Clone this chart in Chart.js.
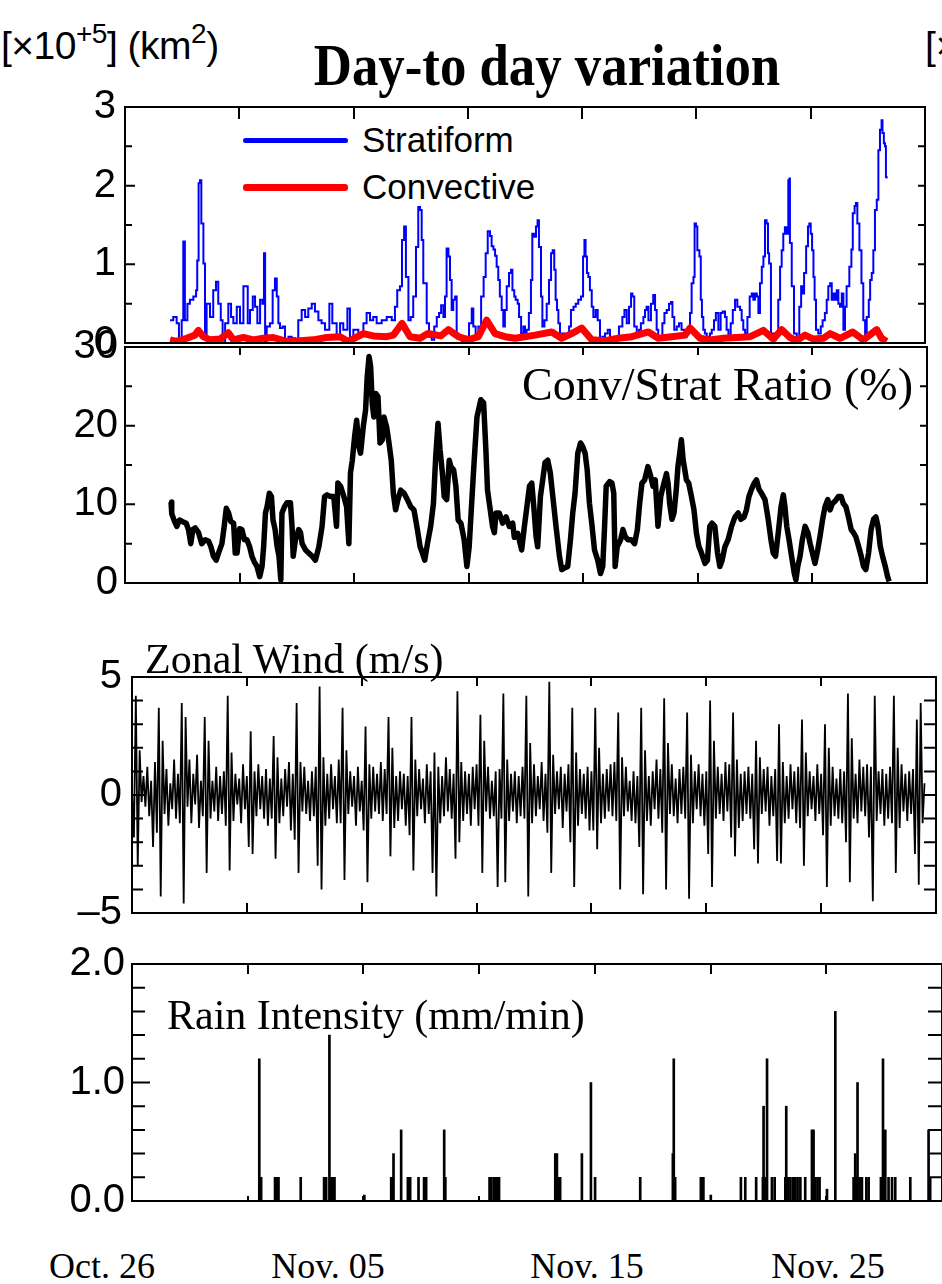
<!DOCTYPE html>
<html>
<head>
<meta charset="utf-8">
<script src="https://cdn.jsdelivr.net/npm/chart.js@4.4.1/dist/chart.umd.min.js"></script>
<style>
html,body{margin:0;padding:0;background:#fff;}
body{width:942px;height:1284px;position:relative;overflow:hidden;}
canvas{position:absolute;left:0;}
.t{position:absolute;white-space:nowrap;color:#000;line-height:1;}
.serif{font-family:"Liberation Serif","Times New Roman",serif;}
.sans{font-family:"Liberation Sans",Arial,sans-serif;}
.sup{position:relative;font-size:28px;top:-16px;}
.key{position:absolute;left:243px;width:105px;border-radius:3px;}
</style>
</head>
<body>

<div class="t sans" style="left:1px;top:26px;font-size:39px;letter-spacing:-0.5px;">[×10<span class="sup">+5</span>] (km<span class="sup">2</span>)</div>
<div class="t sans" style="left:925px;top:26px;font-size:39px;">[×10<span class="sup">+5</span>]</div>
<div class="t serif" style="left:547px;top:35px;font-size:60px;font-weight:bold;transform:translateX(-50%) scaleX(0.88);">Day-to day variation</div>

<div class="key" style="top:138px;height:5px;background:#0000ff;"></div>
<div class="key" style="top:184px;height:7px;background:#ff0000;"></div>
<div class="t sans" style="left:362px;top:122px;font-size:35px;">Stratiform</div>
<div class="t sans" style="left:362px;top:169px;font-size:35px;">Convective</div>

<canvas id="c1"></canvas>
<canvas id="c2"></canvas>
<canvas id="c3"></canvas>
<canvas id="c4"></canvas>

<div class="t serif" style="right:29px;top:362px;font-size:46px;">Conv/Strat Ratio (%)</div>
<div class="t serif" style="left:145px;top:638px;font-size:42px;">Zonal Wind (m/s)</div>
<div class="t serif" style="left:167px;top:994px;font-size:42px;">Rain Intensity (mm/min)</div>

<div id="dates"></div>

<script>
// x values are days after Oct. 26 00:00

const dateLabels = ["Oct. 26", "Nov. 05", "Nov. 15", "Nov. 25"];
const dateLabelX = [102, 328, 587, 828];

// stratiform / convective area [x10^5 km2]
const stratiform = [
[1.97,0.29],[2.11,0.33],[2.26,0.25],[2.36,0.06],[2.48,0.29],[2.55,1.29],[2.62,0.29],[2.73,0.50],[2.84,0.55],[2.99,0.59],
[3.11,0.67],[3.16,1.05],[3.22,2.03],[3.28,2.07],[3.34,1.52],[3.43,1.01],[3.50,0.08],[3.57,0.50],[3.72,0.33],[3.86,0.67],
[3.98,0.78],[4.08,0.50],[4.19,0.29],[4.27,0.0],[4.38,0.25],[4.52,0.50],[4.64,0.33],[4.74,0.25],[4.89,0.46],[5.03,0.25],
[5.18,0.72],[5.28,0.72],[5.37,0.25],[5.47,0.42],[5.59,0.59],[5.69,0.46],[5.79,0.25],[5.91,0.55],[6.01,0.50],[6.08,1.14],
[6.13,0.0],[6.20,0.21],[6.34,0.25],[6.46,0.67],[6.56,0.82],[6.64,0.59],[6.71,0.25],[6.78,0.19],[6.90,0.21],[7.00,0.0],
[7.15,0.08],[7.29,0.06],[7.44,0.04],[7.58,0.29],[7.73,0.42],[7.88,0.33],[8.02,0.44],[8.17,0.50],[8.31,0.40],[8.46,0.29],
[8.60,0.25],[8.75,0.17],[8.94,0.50],[9.07,0.25],[9.26,0.08],[9.41,0.25],[9.55,0.17],[9.73,0.44],[9.84,0.04],[9.99,0.17],
[10.21,0.12],[10.43,0.25],[10.57,0.38],[10.72,0.29],[10.86,0.33],[11.01,0.25],[11.23,0.29],[11.45,0.33],[11.67,0.29],[11.81,0.46],
[11.91,0.67],[12.03,0.72],[12.12,1.31],[12.21,1.48],[12.29,0.84],[12.40,0.29],[12.50,0.33],[12.61,0.59],[12.73,1.22],[12.83,1.73],
[12.91,1.69],[12.98,1.31],[13.05,0.76],[13.20,0.25],[13.30,0.08],[13.42,0.04],[13.53,0.21],[13.64,0.33],[13.74,0.38],[13.83,0.48],
[13.93,0.33],[14.00,0.59],[14.07,1.20],[14.15,1.10],[14.22,0.80],[14.29,0.42],[14.36,0.55],[14.44,0.59],[14.51,0.12],[14.58,0.08],
[14.73,0.02],[14.85,0.08],[14.95,0.02],[15.05,0.25],[15.17,0.44],[15.24,0.21],[15.34,0.08],[15.46,0.21],[15.58,0.59],[15.69,0.84],
[15.78,1.14],[15.87,1.42],[15.97,1.36],[16.04,1.23],[16.12,1.19],[16.19,1.11],[16.26,0.97],[16.33,0.80],[16.40,0.59],[16.48,0.42],
[16.55,0.21],[16.62,0.42],[16.70,0.72],[16.80,0.89],[16.89,0.93],[16.95,0.67],[17.03,0.59],[17.09,0.55],[17.18,0.50],[17.24,0.33],
[17.33,0.12],[17.43,0.21],[17.50,0.12],[17.57,0.17],[17.67,0.38],[17.76,0.80],[17.82,1.39],[17.91,1.35],[17.98,1.48],[18.05,1.56],
[18.11,1.22],[18.20,0.59],[18.26,0.21],[18.35,0.29],[18.45,0.50],[18.55,0.80],[18.64,1.14],[18.71,1.18],[18.78,0.93],[18.84,0.55],
[18.90,0.42],[18.96,0.25],[19.03,0.08],[19.13,0.12],[19.22,0.08],[19.32,0.08],[19.43,0.21],[19.51,0.42],[19.62,0.46],[19.72,0.50],
[19.83,0.55],[19.95,0.59],[20.04,1.10],[20.10,1.31],[20.15,1.10],[20.21,0.89],[20.27,0.84],[20.34,0.67],[20.42,0.46],[20.49,0.33],
[20.59,0.42],[20.68,0.29],[20.78,0.04],[20.88,0.08],[21.00,0.12],[21.12,0.17],[21.22,0.04],[21.32,0.02],[21.41,0.0],[21.51,0.04],
[21.61,0.21],[21.70,0.21],[21.76,0.33],[21.85,0.42],[21.95,0.25],[22.05,0.46],[22.14,0.63],[22.20,0.59],[22.28,0.21],[22.39,0.08],
[22.49,0.17],[22.57,0.25],[22.68,0.33],[22.75,0.42],[22.82,0.46],[22.90,0.29],[23.01,0.50],[23.11,0.61],[23.19,0.42],[23.26,0.17],
[23.33,0.04],[23.42,0.08],[23.51,0.25],[23.60,0.38],[23.70,0.42],[23.80,0.50],[23.89,0.52],[23.95,0.33],[24.03,0.17],[24.14,0.21],
[24.24,0.25],[24.35,0.17],[24.47,0.08],[24.57,0.12],[24.67,0.21],[24.72,0.38],[24.79,0.76],[24.87,0.84],[24.92,1.52],[24.98,1.48],
[25.04,1.18],[25.13,1.10],[25.19,0.55],[25.24,0.33],[25.30,0.17],[25.37,0.12],[25.45,0.08],[25.52,0.04],[25.59,0.12],[25.67,0.17],
[25.77,0.29],[25.85,0.38],[25.96,0.17],[26.06,0.38],[26.15,0.40],[26.25,0.33],[26.32,0.17],[26.40,0.04],[26.50,0.25],[26.59,0.42],
[26.69,0.55],[26.79,0.46],[26.91,0.42],[26.98,0.29],[27.05,0.17],[27.13,0.12],[27.23,0.33],[27.33,0.59],[27.42,0.63],[27.49,0.55],
[27.56,0.63],[27.64,0.59],[27.71,0.38],[27.78,0.76],[27.86,0.97],[27.93,1.10],[28.00,1.56],[28.07,1.52],[28.13,1.14],[28.18,1.01],
[28.26,0.12],[28.36,0.04],[28.48,0.12],[28.58,0.55],[28.66,0.97],[28.73,1.18],[28.80,1.39],[28.87,1.47],[28.95,1.39],[29.02,2.07],
[29.07,2.09],[29.09,1.27],[29.17,0.72],[29.27,0.12],[29.39,0.04],[29.50,0.46],[29.58,0.72],[29.65,0.63],[29.71,0.89],[29.80,1.23],
[29.88,1.48],[29.94,1.52],[30.00,1.39],[30.06,1.18],[30.12,0.84],[30.17,0.55],[30.23,0.17],[30.33,0.12],[30.44,0.21],[30.52,0.29],
[30.62,0.38],[30.70,0.55],[30.77,0.72],[30.85,0.76],[30.92,0.55],[30.99,0.63],[31.06,0.55],[31.14,0.67],[31.21,0.50],[31.28,0.46],
[31.36,0.63],[31.43,0.17],[31.50,0.46],[31.57,0.72],[31.69,0.97],[31.78,1.19],[31.84,1.65],[31.92,1.74],[31.98,1.78],[32.04,1.52],
[32.13,1.18],[32.22,0.76],[32.30,0.29],[32.38,0.08],[32.45,0.33],[32.54,0.55],[32.60,0.80],[32.67,0.89],[32.74,1.18],[32.81,1.69],
[32.89,1.82],[32.96,2.45],[33.03,2.71],[33.10,2.83],[33.14,2.67],[33.20,2.54],[33.25,2.50],[33.29,2.11],[33.32,2.09]
];

const convective = [
[1.97,0.04],[2.26,0.02],[2.70,0.06],[3.06,0.10],[3.21,0.16],[3.43,0.08],[3.72,0.04],[4.16,0.05],[4.52,0.13],[4.74,0.04],
[5.18,0.07],[5.61,0.04],[6.05,0.06],[6.49,0.07],[7.07,0.02],[7.66,0.03],[8.24,0.04],[8.82,0.07],[9.41,0.08],[9.77,0.02],
[10.43,0.12],[10.86,0.09],[11.45,0.08],[11.74,0.10],[12.12,0.25],[12.47,0.08],[12.91,0.06],[13.25,0.12],[13.82,0.09],[14.15,0.17],
[14.58,0.08],[15.02,0.04],[15.46,0.08],[15.82,0.29],[16.19,0.12],[16.62,0.08],[17.06,0.06],[17.50,0.08],[17.94,0.10],[18.67,0.14],
[19.10,0.06],[19.54,0.12],[19.98,0.19],[20.42,0.04],[21.00,0.03],[21.58,0.06],[22.17,0.08],[22.90,0.14],[23.33,0.06],[23.92,0.08],
[24.50,0.10],[24.72,0.19],[25.16,0.06],[25.59,0.04],[26.18,0.06],[26.76,0.07],[27.35,0.08],[27.93,0.16],[28.36,0.05],[28.73,0.17],
[29.09,0.07],[29.39,0.03],[29.75,0.10],[30.12,0.05],[30.55,0.06],[30.85,0.12],[31.28,0.06],[31.84,0.14],[32.30,0.04],[32.89,0.17],
[33.10,0.06],[33.32,0.02]
];

// convective / stratiform ratio [%]
const ratio = [
[2.01,10.3],[2.04,8.8],[2.14,8.0],[2.26,7.2],[2.38,8.0],[2.52,7.8],[2.67,7.6],[2.77,6.8],[2.87,5.0],[2.96,6.8],
[3.06,7.0],[3.21,6.4],[3.35,5.0],[3.50,5.5],[3.65,5.3],[3.75,4.6],[3.86,3.4],[3.98,2.9],[4.08,3.8],[4.23,5.0],
[4.33,7.2],[4.42,9.5],[4.52,8.9],[4.62,7.8],[4.74,7.6],[4.81,3.8],[4.89,3.8],[5.00,6.9],[5.10,6.8],[5.21,5.5],
[5.32,5.5],[5.44,4.6],[5.54,3.4],[5.64,2.7],[5.76,2.1],[5.88,0.8],[5.98,2.1],[6.05,4.6],[6.13,8.9],[6.20,9.7],
[6.30,11.4],[6.39,11.0],[6.46,8.0],[6.55,6.8],[6.64,4.6],[6.72,3.4],[6.80,0.4],[6.85,8.9],[6.96,9.7],[7.07,10.2],
[7.22,10.2],[7.29,7.2],[7.34,3.4],[7.44,5.5],[7.58,6.8],[7.66,6.4],[7.73,5.0],[7.88,4.2],[8.02,3.8],[8.17,3.4],
[8.31,2.9],[8.46,4.6],[8.60,7.2],[8.71,11.0],[8.82,11.2],[8.97,11.0],[9.11,11.0],[9.23,7.2],[9.29,12.7],[9.41,12.3],
[9.55,11.0],[9.67,9.7],[9.77,5.0],[9.84,14.0],[9.92,15.6],[10.02,18.6],[10.11,20.7],[10.21,17.3],[10.28,16.5],[10.40,19.9],
[10.50,22.0],[10.57,26.2],[10.65,28.8],[10.72,27.5],[10.79,22.8],[10.86,21.1],[10.94,24.1],[11.04,23.7],[11.13,17.8],[11.23,18.2],
[11.30,21.1],[11.42,19.8],[11.52,17.8],[11.62,15.6],[11.71,11.4],[11.81,9.3],[11.91,10.6],[12.03,11.8],[12.18,11.4],[12.32,10.6],
[12.47,9.7],[12.61,9.3],[12.76,6.8],[12.88,4.6],[12.98,3.8],[13.08,2.9],[13.20,5.0],[13.34,7.2],[13.46,10.1],[13.56,16.1],
[13.66,20.3],[13.75,16.9],[13.85,14.0],[13.93,11.0],[14.04,10.6],[14.15,15.6],[14.22,14.8],[14.34,14.4],[14.44,12.3],[14.54,8.0],
[14.66,7.6],[14.80,5.5],[14.92,2.1],[15.02,4.6],[15.12,9.7],[15.24,15.6],[15.36,21.1],[15.53,23.3],[15.65,22.9],[15.75,16.9],
[15.82,11.8],[15.94,9.3],[16.04,7.2],[16.12,6.4],[16.19,8.9],[16.33,8.9],[16.48,7.6],[16.63,8.4],[16.77,7.2],[16.92,7.6],
[16.99,5.8],[17.14,6.3],[17.31,4.2],[17.43,7.2],[17.54,9.7],[17.65,12.3],[17.75,12.7],[17.84,9.7],[17.94,5.9],[18.01,4.6],
[18.13,11.0],[18.23,13.1],[18.33,15.3],[18.45,15.6],[18.56,14.0],[18.67,11.0],[18.81,7.2],[18.96,3.4],[19.06,1.7],[19.18,1.9],
[19.32,2.1],[19.44,5.5],[19.54,8.9],[19.64,11.4],[19.76,16.5],[19.88,17.8],[19.98,17.3],[20.08,16.5],[20.17,14.4],[20.27,10.1],
[20.37,7.6],[20.49,4.2],[20.63,2.9],[20.75,1.2],[20.85,2.1],[20.93,7.2],[21.00,12.3],[21.15,12.9],[21.25,12.7],[21.33,11.4],
[21.39,2.1],[21.48,4.6],[21.63,5.5],[21.73,6.8],[21.83,5.9],[21.95,5.5],[22.09,5.5],[22.24,5.0],[22.36,6.8],[22.46,10.1],
[22.56,12.7],[22.68,13.1],[22.82,14.8],[22.94,13.6],[23.04,12.3],[23.14,13.1],[23.26,7.2],[23.38,11.0],[23.52,12.7],[23.63,13.9],
[23.70,12.7],[23.77,10.1],[23.87,8.1],[23.96,8.9],[24.06,11.9],[24.13,14.8],[24.21,16.5],[24.28,18.2],[24.36,15.6],[24.43,14.4],
[24.50,13.1],[24.60,12.7],[24.72,11.0],[24.83,9.3],[24.94,6.3],[25.04,4.7],[25.16,3.8],[25.31,2.5],[25.42,2.9],[25.52,7.2],
[25.62,7.6],[25.74,7.2],[25.86,3.8],[25.96,2.1],[26.06,2.9],[26.18,4.6],[26.32,5.5],[26.47,7.2],[26.62,8.4],[26.76,8.9],
[26.88,8.1],[27.02,8.4],[27.12,9.3],[27.23,11.0],[27.34,11.9],[27.46,12.7],[27.56,13.1],[27.67,11.9],[27.78,11.4],[27.93,10.6],
[28.07,8.1],[28.19,5.5],[28.29,3.8],[28.39,3.4],[28.51,6.4],[28.63,9.7],[28.73,11.2],[28.80,9.7],[28.88,7.2],[28.98,5.5],
[29.09,3.4],[29.21,1.2],[29.28,0.4],[29.36,2.1],[29.46,3.4],[29.56,5.5],[29.68,7.2],[29.80,6.4],[29.90,5.0],[30.00,3.8],
[30.11,2.5],[30.23,4.2],[30.33,5.9],[30.44,8.0],[30.55,9.7],[30.67,10.6],[30.77,9.3],[30.87,10.1],[30.99,10.4],[31.13,11.0],
[31.25,11.0],[31.35,10.1],[31.46,9.7],[31.57,8.4],[31.69,6.8],[31.79,6.4],[31.89,5.9],[32.01,4.7],[32.13,3.4],[32.23,2.1],
[32.33,1.7],[32.45,3.8],[32.56,6.8],[32.67,8.1],[32.77,8.4],[32.86,7.2],[32.96,4.7],[33.06,3.4],[33.18,2.1],[33.28,0.8],
[33.35,0.2]
];

// zonal wind [m/s], one reading every 2 hours from Oct. 26 00:00
const windStartDay = 0;
const windStepDay = 1 / 12;
const wind = [
0.2,-1.8,4.2,-3.0,1.9,-0.3,0.8,-0.5,1.2,-0.9,0.6,-2.2,
1.4,-1.6,3.7,-4.3,2.3,-0.8,1.1,-1.3,0.5,-0.6,1.5,-1.0,
0.9,-1.2,3.9,-4.6,3.3,-0.5,1.5,-1.2,0.9,-0.4,1.7,-1.4,
0.6,-0.9,3.3,-3.3,2.3,-1.0,0.6,-0.7,1.2,-1.1,0.8,-0.8,
1.0,-1.3,4.2,-3.2,1.8,-1.1,0.9,-0.4,0.7,-1.2,1.3,-0.6,
0.8,-2.2,2.7,-2.5,1.0,-0.9,1.3,-0.6,0.8,-1.0,1.1,-1.3,
0.7,-1.0,2.5,-2.7,1.6,-1.2,0.7,-0.9,1.1,-0.5,1.4,-1.5,
0.9,-1.9,3.9,-3.3,1.4,-0.7,1.2,-0.8,0.6,-1.1,1.0,-0.9,
1.2,-3.0,4.6,-4.0,1.6,-1.3,0.9,-1.0,1.3,-0.6,0.8,-1.2,
1.5,-1.2,3.7,-3.6,1.9,-0.8,1.0,-0.5,0.8,-1.3,1.2,-0.7,
0.6,-1.5,2.9,-3.7,1.3,-1.0,1.2,-0.7,0.9,-0.8,1.4,-1.1,
1.1,-0.8,3.3,-2.6,2.0,-1.4,0.8,-1.1,1.0,-0.6,0.9,-1.3,
0.8,-1.7,3.3,-3.2,1.5,-0.9,1.1,-0.6,0.7,-1.2,1.3,-0.8,
1.0,-3.3,1.8,-4.3,1.2,-1.2,0.8,-0.9,1.6,-0.7,1.1,-1.0,
0.9,-2.7,4.4,-2.0,1.4,-1.1,1.0,-0.8,0.9,-1.3,1.2,-0.6,
1.3,-1.3,3.4,-3.3,2.3,-0.7,1.2,-1.0,0.6,-0.9,1.0,-3.9,
1.1,-1.0,4.3,-3.7,1.5,-1.1,0.9,-0.7,1.0,-1.2,0.8,-0.9,
1.2,-1.0,4.2,-4.3,2.2,-1.2,1.3,-0.9,0.8,-0.6,1.4,-1.1,
0.9,-1.6,4.8,-3.3,1.7,-0.8,1.0,-0.6,1.2,-1.4,0.9,-0.7,
1.3,-2.0,3.7,-3.9,1.8,-1.3,1.1,-0.8,0.9,-1.0,1.2,-1.5,
1.0,-1.5,3.7,-2.3,2.0,-1.2,0.9,-1.0,1.1,-0.7,1.3,-0.9,
1.4,-1.1,3.5,-4.0,1.6,-0.9,1.2,-0.7,0.6,-1.1,1.0,-1.2,
0.8,-2.2,3.7,-4.2,1.9,-1.1,0.8,-1.3,1.0,-0.6,1.5,-1.0,
1.1,-1.6,4.1,-4.0,2.2,-0.8,1.3,-0.9,0.7,-1.2,1.1,-0.8,
1.2,-1.0,3.5,-4.4,1.7,-1.2,1.0,-0.6,1.3,-0.9,0.9,-1.3,
1.0,-2.5,4.0,-3.9,2.3,-1.0,1.2,-0.8,0.9,-1.1,1.4,-0.7,
1.3,-1.8,3.5,-2.6,1.5,-1.4,0.9,-1.1,1.0,-0.8,1.2,-1.0,
0.9,-2.3,2.3,-2.9,1.6,-0.8,1.1,-0.7,1.2,-1.3,0.8,-0.9,
1.1,-2.8,3.0,-2.9,1.4,-1.2,0.8,-1.0,1.3,-0.6,1.0,-1.2,
1.2,-1.4,3.2,-3.0,1.8,-0.9,1.0,-0.6,0.8,-1.1,1.3,-0.8,
0.9,-1.7,3.0,-3.9,2.0,-1.3,1.2,-0.9,0.7,-1.0,1.1,-1.2,
1.0,-2.0,4.3,-3.7,2.4,-1.0,0.9,-1.2,1.5,-0.7,1.2,-0.9,
1.3,-1.8,1.2,-4.5,4.2,-1.1,1.0,-0.8,1.1,-1.3,0.9,-1.0,
1.2,-1.2,4.2,-3.3,2.0,-1.4,1.3,-0.7,0.9,-1.1,1.0,-0.8,
1.1,-2.5,3.2,-3.8,3.9,-1.2,0.5
];

// rain intensity [mm/min]
const rain = [
[5.50,1.2],[5.58,0.2],[6.18,0.2],[6.25,0.2],[6.33,0.2],[7.29,0.2],[8.30,0.2],[8.39,0.2],[8.53,1.4],[8.60,0.2],
[8.67,0.2],[8.75,0.2],[10.04,0.05],[11.20,0.2],[11.25,0.2],[11.30,0.4],[11.63,0.6],[11.92,0.2],[12.02,0.2],[12.38,0.2],
[12.62,0.2],[12.71,0.2],[13.49,0.6],[13.54,0.2],[15.45,0.2],[15.50,0.2],[15.62,0.2],[15.69,0.2],[15.76,0.2],[15.86,0.2],
[18.29,0.4],[18.36,0.4],[18.43,0.2],[18.50,0.2],[19.44,0.4],[19.83,1.0],[20.01,0.2],[21.96,0.2],[23.37,0.4],[23.41,1.2],
[23.47,0.2],[24.58,0.2],[24.63,0.2],[24.69,0.2],[25.01,0.05],[26.31,0.2],[26.50,0.2],[26.97,0.2],[27.26,0.2],[27.29,0.8],
[27.36,0.2],[27.44,1.2],[27.65,0.2],[27.77,0.2],[28.23,0.2],[28.27,0.8],[28.35,0.2],[28.45,0.2],[28.56,0.2],[28.66,0.2],
[28.76,0.2],[28.88,0.2],[29.09,0.2],[29.38,0.6],[29.45,0.6],[29.52,0.2],[29.62,0.2],[29.71,0.2],[30.03,0.1],[30.39,1.6],
[31.18,0.2],[31.25,0.4],[31.30,0.2],[31.35,1.0],[31.44,0.2],[31.54,0.2],[31.73,0.2],[31.83,0.2],[32.36,0.2],[32.42,0.2],
[32.45,1.2],[32.55,0.6],[32.69,0.2],[32.84,0.2],[32.98,0.2],[33.63,0.2],[34.42,0.6],[34.49,0.2]
];

const dayTicks = [5, 10, 15, 20, 25, 30];
const areaTicks = [0, 0.5, 1, 1.5, 2, 2.5, 3];
const ratioTicks = [0, 5, 10, 15, 20, 25, 30];
const windTicks = [-5, -4, -3, -2, -1, 0, 1, 2, 3, 4, 5];
const rainTicks = [0, 0.2, 0.4, 0.6, 0.8, 1.0, 1.2, 1.4, 1.6, 1.8, 2.0];


const tickFont = { family: "'Liberation Sans', Arial, sans-serif", size: 40 };

function toXY(pairs){
return pairs.map(p => ({ x: p[0], y: p[1] }));
}

function framePlugin(f){
return {
id: "frame",
afterDatasetsDraw(chart){
const ctx = chart.ctx;
const a = chart.chartArea;
const xs = chart.scales.x;
const ys = chart.scales.y;
ctx.save();
ctx.strokeStyle = "#000";
ctx.lineWidth = 2;
ctx.strokeRect(a.left, a.top, a.right - a.left, a.bottom - a.top);
ctx.beginPath();
dayTicks.forEach(v => {
const px = Math.round(xs.getPixelForValue(v));
ctx.moveTo(px, a.top); ctx.lineTo(px, a.top + f.topLen);
if(f.bottomLen){ ctx.moveTo(px, a.bottom); ctx.lineTo(px, a.bottom - f.bottomLen); }
});
f.yTicks.forEach(v => {
const py = ys.getPixelForValue(v);
const major = f.yMajor.some(m => Math.abs(m - v) < 1e-6);
ctx.moveTo(a.left, py); ctx.lineTo(a.left + (major ? f.leftMajor : f.leftMinor), py);
ctx.moveTo(a.right, py); ctx.lineTo(a.right - f.right, py);
});
ctx.stroke();
ctx.restore();
}
};
}

function makePanel(id, box, type, datasets, y, f){
const canvas = document.getElementById(id);
const h = box.bottom - box.top + 80;
canvas.width = 942; canvas.height = h;
canvas.style.width = "942px"; canvas.style.height = h + "px";
canvas.style.top = (box.top - 40) + "px";

return new Chart(canvas.getContext("2d"), {
type: type,
data: { datasets: datasets },
options: {
responsive: false,
animation: false,
layout: { padding: { top: 40, bottom: 40, left: 0, right: 942 - box.right } },
plugins: { legend: { display: false }, tooltip: { enabled: false } },
elements: { point: { radius: 0 }, line: { tension: 0 } },
scales: {
x: { type: "linear", min: 0, max: 35, display: false, offset: false },
y: {
type: "linear", min: y.min, max: y.max,
grid: { display: false, drawTicks: false },
border: { display: false },
ticks: { stepSize: y.step, autoSkip: false, color: "#000", font: tickFont, padding: y.pad, callback: y.fmt },
afterFit: s => { s.width = box.left; }
}
}
},
plugins: [framePlugin(f)]
});
}

makePanel("c1", { top: 107, bottom: 343, left: 125, right: 925 }, "line", [
{ data: toXY(convective), borderColor: "#ff0000", borderWidth: 7, borderJoinStyle: "round" },
{ data: toXY(stratiform), borderColor: "#0000ff", borderWidth: 2, stepped: true }
], { min: 0, max: 3, step: 1, pad: 9, fmt: v => String(v) },
{ yTicks: areaTicks, yMajor: [0, 1, 2, 3], leftMajor: 10, leftMinor: 7, right: 7, topLen: 12, bottomLen: 0 });

makePanel("c2", { top: 347, bottom: 583, left: 125, right: 927 }, "line", [
{ data: toXY(ratio), borderColor: "#000", borderWidth: 5.5, borderJoinStyle: "round" }
], { min: 0, max: 30, step: 10, pad: 7, fmt: v => String(v) },
{ yTicks: ratioTicks, yMajor: [0, 10, 20, 30], leftMajor: 10, leftMinor: 7, right: 7, topLen: 8, bottomLen: 10 });

makePanel("c3", { top: 677, bottom: 913, left: 132, right: 936 }, "line", [
{ data: wind.map((v, i) => ({ x: windStartDay + i * windStepDay, y: v })), borderColor: "#000", borderWidth: 1.8 }
], { min: -5, max: 5, step: 5, pad: 10, fmt: v => v < 0 ? "\u2013" + Math.abs(v) : String(v) },
{ yTicks: windTicks, yMajor: [-5, 0, 5], leftMajor: 12, leftMinor: 11, right: 12, topLen: 9, bottomLen: 10 });

makePanel("c4", { top: 964, bottom: 1201, left: 132, right: 943 }, "bar", [
{ data: toXY(rain), backgroundColor: "#000", barThickness: 2 }
], { min: 0, max: 2, step: 1, pad: 7, fmt: v => v.toFixed(1) },
{ yTicks: rainTicks, yMajor: [0, 1, 2], leftMajor: 18, leftMinor: 13, right: 14, topLen: 10, bottomLen: 5 });

const dates = document.getElementById("dates");
dateLabels.forEach((txt, i) => {
const d = document.createElement("div");
d.className = "t serif";
d.style.fontSize = "36px";
d.style.top = "1248px";
d.style.left = dateLabelX[i] + "px";
d.style.transform = "translateX(-50%)";
d.textContent = txt;
dates.appendChild(d);
});
</script>
</body>
</html>
